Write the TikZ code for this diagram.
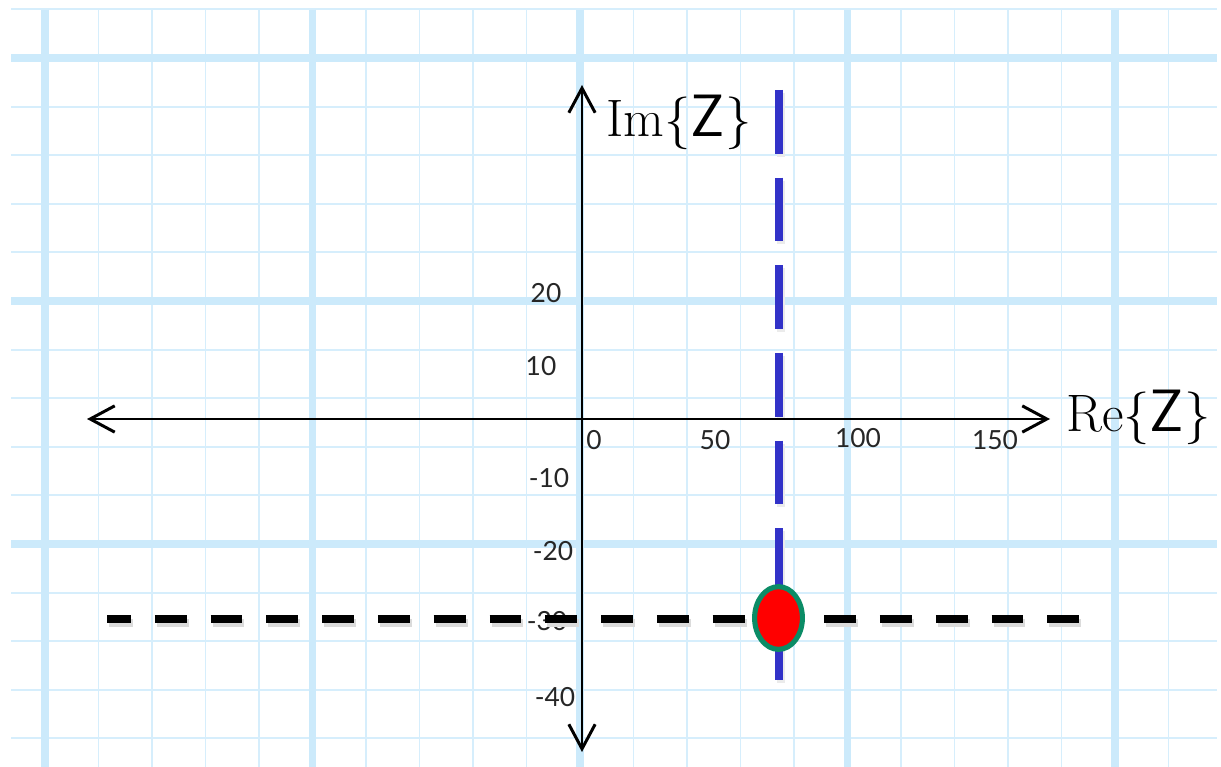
\documentclass[tikz,border=0pt]{standalone}
\usepackage{fontspec}
\usepackage{tikz}
\newfontfamily\tickfont{Lato}
\definecolor{gridThin}{HTML}{D6EEFC}
\definecolor{gridThick}{HTML}{CCEAFB}
\definecolor{poleBlue}{HTML}{3232C8}
\definecolor{poleRed}{HTML}{FF0000}
\definecolor{poleRim}{HTML}{0B8C66}
\usetikzlibrary{arrows.meta,shapes.geometric}

\begin{document}
\begin{tikzpicture}[x=0.02cm,y=-0.02cm,
  every node/.style={inner sep=0pt},
  gridthin/.style={color=gridThin, line width=1.1pt},
  gridthick/.style={color=gridThick, line width=4.2pt},
  ticklab/.style={font=\tickfont\fontsize{15}{15}\selectfont, text=black!85},
  axlab/.style={font=\fontsize{30}{34}\selectfont},
  axisline/.style={line width=1.7pt, {Straight Barb[length=14pt,width=15pt]}-{Straight Barb[length=14pt,width=15pt]}},
  bluedash/.style={color=poleBlue, line width=4.5pt, dash pattern=on 36.28pt off 13.61pt},
  blackdash/.style={color=black, line width=4.5pt, dash pattern=on 18.14pt off 13.61pt, dash phase=4.54pt},
  pole/.style={ellipse, draw=poleRim, fill=poleRed, line width=2.9pt, minimum width=27.2pt, minimum height=35.7pt}]
  \fill[white] (0,0) rectangle (1221,767);
  \useasboundingbox (0,0) rectangle (1221,767);
  \foreach \k in {0,...,21} {
    \pgfmathsetmacro\gx{45+53.5*\k}
    \draw[gridthin] (\gx,10) -- (\gx,767);
  }
  \foreach \k in {-1,...,14} {
    \pgfmathsetmacro\gy{58+48.6*\k}
    \draw[gridthin] (11,\gy) -- (1217,\gy);
  }
  \foreach \gx in {45,312.5,580,847.5,1115}
    \draw[gridthick] (\gx,10) -- (\gx,767);
  \foreach \gy in {58,301,544}
    \draw[gridthick] (11,\gy) -- (1217,\gy);
  \foreach \tx/\ty/\tval/\tname in {546/293/20/tpa,541/366/10/tpb,594/440/0/tzero,715/440/50/tra,858/438/100/trb,995/440/150/trc,549/478/-10/tma,553/551/-20/tmb,547/621/-30/tmc,555/697/-40/tmd}
    \node[ticklab] (\tname) at (\tx,\ty) {\tval};
  \coordinate (bt) at (779,90);
  \coordinate (bb) at (779,682);
  \coordinate (hl) at (107,619);
  \coordinate (hr) at (1083,619);
  \draw[bluedash, black!8] ([shift={(2,3)}]bt) -- ([shift={(2,3)}]bb);
  \draw[blackdash, black!14] ([shift={(2,4)}]hl) -- ([shift={(2,4)}]hr);
  \coordinate (xl) at (87,419);
  \coordinate (xr) at (1050,419);
  \coordinate (yt) at (582,85);
  \coordinate (yb) at (582,752);
  \draw[axisline] (xl) -- (xr);
  \draw[axisline] (yb) -- (yt);
  \node[axlab, anchor=west] (relab) at (1066,417) {Re\{{\sffamily\fontsize{34}{34}\selectfont Z}\}};
  \node[axlab, anchor=west] (imlab) at (606,122) {Im\{{\sffamily\fontsize{34}{34}\selectfont Z}\}};
  \draw[bluedash] (bt) -- (bb);
  \draw[blackdash] (hl) -- (hr);
  \node[pole] (zp) at (778.5,618) {};
\end{tikzpicture}
\end{document}
